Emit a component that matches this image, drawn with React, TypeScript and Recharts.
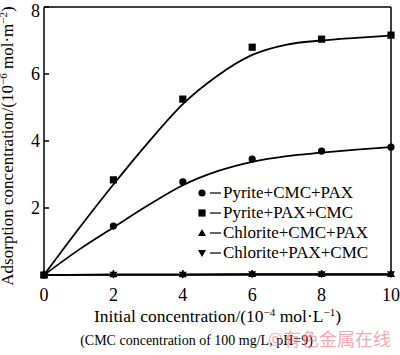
import React from 'react';
import { LineChart, Line, XAxis, YAxis, ReferenceLine, Label } from 'recharts';

const FONT = 'Liberation Serif, Times New Roman, serif';

// initial concentration, 10^-4 mol/L
const concentration = [0, 2, 4, 6, 8, 10];
// measured adsorption, 10^-6 mol/m2
const pyriteCmcPax = [0, 1.46, 2.78, 3.46, 3.7, 3.82];
const pyritePaxCmc = [0, 2.84, 5.25, 6.8, 7.04, 7.16];
const chloriteCmcPax = [0, 0.02, 0.02, 0.03, 0.03, 0.03];
const chloritePaxCmc = [0, 0.01, 0.01, 0.02, 0.02, 0.02];

// fitted curves
const fitConcentration = [0, 1, 2, 3, 4, 5, 6, 7, 8, 9, 10];
const pyriteCmcPaxFit = [0, 0.75, 1.42, 2.08, 2.68, 3.1, 3.38, 3.55, 3.65, 3.74, 3.82];
const pyritePaxCmcFit = [0, 1.38, 2.7, 3.95, 5.1, 5.95, 6.57, 6.88, 7.0, 7.08, 7.15];

const xTicks = [0, 2, 4, 6, 8, 10];
const yTicks = [2, 4, 6, 8];

const legendItems = [
  { name: 'Pyrite+CMC+PAX', shape: 'circle' },
  { name: 'Pyrite+PAX+CMC', shape: 'square' },
  { name: 'Chlorite+CMC+PAX', shape: 'up' },
  { name: 'Chlorite+PAX+CMC', shape: 'down' },
];

const toPoints = (xs: number[], ys: number[]) => xs.map((x, i) => ({ x, y: ys[i] }));

const Marker = ({ cx, cy, shape }: { cx: number; cy: number; shape: string }) => {
  if (cx == null || cy == null) return null;
  if (shape === 'circle') return <circle cx={cx} cy={cy} r={3.6} fill="#000" />;
  if (shape === 'square') return <rect x={cx - 3.6} y={cy - 3.6} width={7.2} height={7.2} fill="#000" />;
  if (shape === 'up')
    return <polygon points={`${cx},${cy - 4} ${cx - 4},${cy + 3} ${cx + 4},${cy + 3}`} fill="#000" />;
  return <polygon points={`${cx},${cy + 4} ${cx - 4},${cy - 3} ${cx + 4},${cy - 3}`} fill="#000" />;
};

const dotOf = (shape: string) => (p: any) => <Marker key={p.index} cx={p.cx} cy={p.cy} shape={shape} />;

const YTitle = ({ viewBox }: any) => {
  const x = viewBox.x + 13;
  const y = viewBox.y + viewBox.height / 2 + 5;
  return (
    <text x={x} y={y} transform={`rotate(-90 ${x} ${y})`} textAnchor="middle" fontFamily={FONT} fontSize={17} fill="#000">
      Adsorption concentration/(10<tspan dy={-6} fontSize={11}>−6</tspan>
      <tspan dy={6}> mol·m</tspan>
      <tspan dy={-6} fontSize={11}>−2</tspan>
      <tspan dy={6}>)</tspan>
    </text>
  );
};

const XTitle = ({ viewBox }: any) => {
  const x = viewBox.x + viewBox.width / 2;
  return (
    <g fontFamily={FONT} fill="#000">
      <text x={x} y={viewBox.y + 47} textAnchor="middle" fontSize={17.5}>
        Initial concentration/(10<tspan dy={-6} fontSize={11}>−4</tspan>
        <tspan dy={6}> mol·L</tspan>
        <tspan dy={-6} fontSize={11}>−1</tspan>
        <tspan dy={6}>)</tspan>
      </text>
      <text x={x - 21} y={viewBox.y + 70} textAnchor="middle" fontSize={14}>
        (CMC concentration of 100 mg/L, pH=9)
      </text>
      <text x={viewBox.x + viewBox.width} y={viewBox.y + 71} textAnchor="end" fontSize={18}
        fontFamily="Noto Sans CJK SC, sans-serif" fill="#e8707c" fillOpacity={0.6}>
        ©有色金属在线
      </text>
    </g>
  );
};

const LegendBox = () => (
  <div style={{ position: 'absolute', left: 197, top: 183, fontFamily: FONT, fontSize: 17, color: '#000', lineHeight: '20px' }}>
    {legendItems.map((item) => (
      <div key={item.name} style={{ display: 'flex', alignItems: 'center', whiteSpace: 'nowrap' }}>
        <svg width={26} height={20}>
          <Marker cx={5} cy={10} shape={item.shape} />
          <line x1={13} x2={24} y1={10} y2={10} stroke="#000" strokeWidth={1.2} />
        </svg>
        <span>{item.name}</span>
      </div>
    ))}
  </div>
);

export default function App() {
  return (
    <div style={{ position: 'absolute', left: 0, top: 0, width: 400, height: 355, background: '#fff' }}>
      <LineChart width={400} height={355} margin={{ top: 7, right: 9, left: 0, bottom: 0 }}>
        <XAxis
          type="number"
          dataKey="x"
          domain={[0, 10]}
          ticks={xTicks}
          stroke="#000"
          strokeWidth={1.5}
          height={80}
          tickSize={-5}
          tickMargin={18}
          tick={{ fill: '#000', fontSize: 18, fontFamily: FONT }}
        >
          <Label content={<XTitle />} />
        </XAxis>
        <YAxis
          type="number"
          domain={[0, 8]}
          ticks={yTicks}
          stroke="#000"
          strokeWidth={1.5}
          width={44}
          tickSize={-5}
          tickMargin={9}
          tick={{ fill: '#000', fontSize: 18, fontFamily: FONT }}
        >
          <Label content={<YTitle />} />
        </YAxis>
        <ReferenceLine y={8} stroke="#000" strokeWidth={1.5} />
        <ReferenceLine x={10} stroke="#000" strokeWidth={1.5} />
        <Line data={toPoints(fitConcentration, pyriteCmcPaxFit)} dataKey="y" type="monotone" stroke="#000"
          strokeWidth={1.8} dot={false} isAnimationActive={false} legendType="none" />
        <Line data={toPoints(fitConcentration, pyritePaxCmcFit)} dataKey="y" type="monotone" stroke="#000"
          strokeWidth={1.8} dot={false} isAnimationActive={false} legendType="none" />
        <Line data={toPoints(concentration, pyriteCmcPax)} dataKey="y" stroke="none" dot={dotOf('circle')}
          isAnimationActive={false} name="Pyrite+CMC+PAX" />
        <Line data={toPoints(concentration, pyritePaxCmc)} dataKey="y" stroke="none" dot={dotOf('square')}
          isAnimationActive={false} name="Pyrite+PAX+CMC" />
        <Line data={toPoints(concentration, chloriteCmcPax)} dataKey="y" stroke="#000" strokeWidth={1.5}
          dot={dotOf('up')} isAnimationActive={false} name="Chlorite+CMC+PAX" />
        <Line data={toPoints(concentration, chloritePaxCmc)} dataKey="y" stroke="#000" strokeWidth={1.5}
          dot={dotOf('down')} isAnimationActive={false} name="Chlorite+PAX+CMC" />
      </LineChart>
      <LegendBox />
    </div>
  );
}
